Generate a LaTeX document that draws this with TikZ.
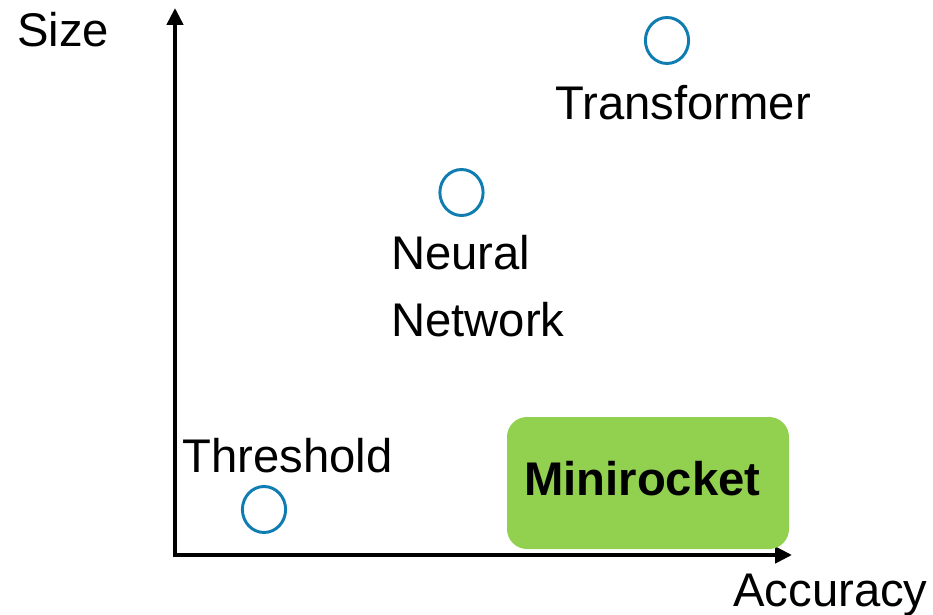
\documentclass[tikz,border=0pt]{standalone}
\usepackage{fontspec}
\setmainfont{Liberation Sans}
\usetikzlibrary{arrows.meta,shapes.geometric}
\definecolor{dotblue}{RGB}{16,125,178}
\definecolor{boxgreen}{RGB}{146,208,80}

\begin{document}
\begin{tikzpicture}[
  lbl/.style={anchor=base west,inner sep=0pt,font=\fontsize{33.6}{40}\selectfont},
  dot/.style={draw=dotblue,line width=2.1pt,ellipse,minimum width=1.08cm,minimum height=1.15cm,inner sep=0pt},
  axis/.style={line width=0.1cm,line join=miter,{Triangle[length=0.42cm,width=0.4cm]}-{Triangle[length=0.42cm,width=0.4cm]}}
]
\useasboundingbox (0,0) rectangle (23.325,15.35);

% Axes
\coordinate (origin) at (4.375,1.475);
\coordinate (ytip) at (4.375,15.15);
\coordinate (xtip) at (19.8,1.475);
\draw[axis] (ytip) -- (origin) -- (xtip);
\node[lbl] (size) at (0.425,14.175) {Size};
\node[lbl] (accuracy) at (18.325,0.2) {Accuracy};

% Models
\node[dot] (transformerdot) at (16.675,14.3375) {};
\node[lbl] (transformer) at (13.875,12.35) {Transformer};

\node[dot] (neuraldot) at (11.5375,10.5375) {};
\node[lbl] (neural) at (9.775,8.6) {Neural};
\node[lbl] (network) at (9.775,6.925) {Network};

\node[dot] (thresholddot) at (6.6,2.6125) {};
\node[lbl] (threshold) at (4.55,3.55) {Threshold};

% Minirocket box
\fill[boxgreen,rounded corners=0.5cm] (12.675,1.625) rectangle (19.725,4.925);
\node[lbl,font=\fontsize{33.6}{40}\selectfont\bfseries] (minirocket) at (13.1,2.975) {Minirocket};
\end{tikzpicture}
\end{document}
